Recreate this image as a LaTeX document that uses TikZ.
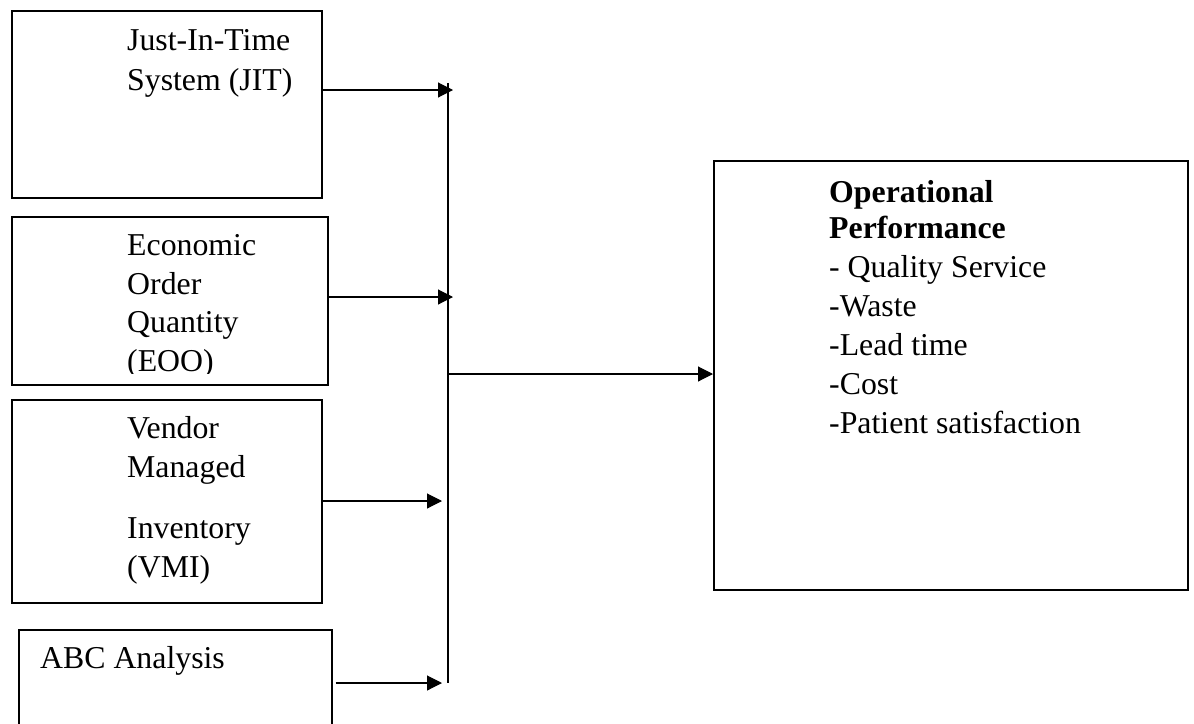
\documentclass[tikz,border=0pt]{standalone}
\usepackage{fontspec}
\setmainfont{Liberation Serif}
\usetikzlibrary{arrows.meta}
\tikzset{
  box/.style={draw=black, line width=1.6pt, rectangle, inner sep=0pt, anchor=north west},
  txt/.style={anchor=base west, inner sep=0pt, font=\fontsize{31.8}{38}\selectfont},
  btxt/.style={txt, font=\fontsize{31.8}{38}\selectfont\bfseries},
  conn/.style={line width=1.1pt, -{Triangle[length=15pt,width=15pt]}},
  bus/.style={line width=1.3pt}
}
\begin{document}
\begin{tikzpicture}[x=1pt,y=-1pt]
\useasboundingbox (0,0) rectangle (1194,723);
\clip (0,0) rectangle (1194,723);
% input boxes
\node[box, minimum width=310pt, minimum height=187pt] (jit) at (11,10) {};
\node[box, minimum width=316pt, minimum height=168pt] (eoq) at (11,216) {};
\node[box, minimum width=310pt, minimum height=203pt] (vmi) at (11,399) {};
\node[box, minimum width=313pt, minimum height=130pt] (abc) at (18,629) {};
% output box
\node[box, minimum width=474pt, minimum height=429pt] (out) at (713,160) {};
% texts
\node[txt] (t1a) at (127,50) {Just-In-Time};
\node[txt] (t1b) at (127,90.5) {System (JIT)};
\begin{scope}
\clip (0,0) rectangle (400,373);
\node[txt] (t2a) at (127,255) {Economic};
\node[txt] (t2b) at (127,294) {Order};
\node[txt] (t2c) at (127,332.5) {Quantity};
\node[txt] (t2d) at (127,371) {(EOO)};
\end{scope}
\node[txt] (t3a) at (127,438) {Vendor};
\node[txt] (t3b) at (127,477) {Managed};
\node[txt] (t3c) at (127,538) {Inventory};
\node[txt] (t3d) at (127,577) {(VMI)};
\node[txt] (t4a) at (40,668) {ABC Analysis};
\node[btxt] (o1) at (829,202) {Operational};
\node[btxt] (o2) at (829,238.5) {Performance};
\node[txt] (o3) at (829,277) {- Quality Service};
\node[txt] (o4) at (829,316) {-Waste};
\node[txt] (o5) at (829,355) {-Lead time};
\node[txt] (o6) at (829,394) {-Cost};
\node[txt] (o7) at (829,433) {-Patient satisfaction};
% bus line
\coordinate (bustop) at (448,83);
\coordinate (busbot) at (448,683);
\draw[bus] (bustop) -- (busbot);
% arrow end points
\coordinate (e1) at (453,90);
\coordinate (e2) at (453,297);
\coordinate (e3) at (442,501);
\coordinate (e4) at (442,683);
\coordinate (busmid) at (448,374);
\draw[conn] (jit.east |- e1) -- (e1);
\draw[conn] (eoq.east |- e2) -- (e2);
\draw[conn] (vmi.east |- e3) -- (e3);
\draw[conn] ([xshift=3pt]abc.east |- e4) -- (e4);
\draw[conn] (busmid) -- (out.west |- busmid);
\end{tikzpicture}
\end{document}
